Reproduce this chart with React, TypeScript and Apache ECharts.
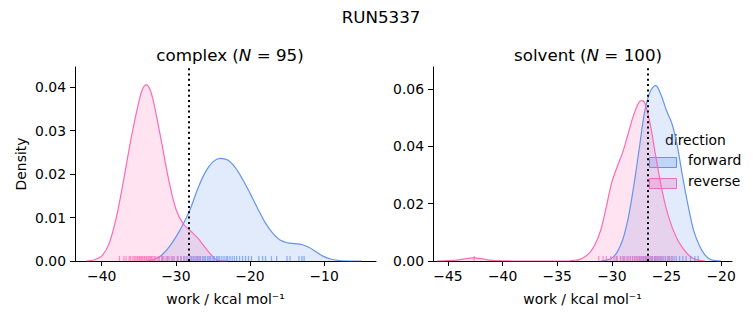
import React, { useEffect, useRef } from "react";
import * as echarts from "echarts";

const FONT = "DejaVu Sans";
const BLUE = "#6495ED";
const PINK = "#FF69B4";
const BLUE_FILL = "rgba(100,149,237,0.27)";
const PINK_FILL = "rgba(255,105,180,0.27)";

// complex KDE (x, density)
const complexForwardX = [-34, -33, -32, -31, -30, -29, -28, -27, -26, -25, -24, -23, -22, -21, -20, -19, -18, -17, -16, -15, -14, -13, -12, -11, -10, -9, -8, -6, -5];
const complexForwardY = [0, 0.0003, 0.0012, 0.003, 0.0055, 0.0085, 0.0122, 0.0168, 0.0205, 0.0228, 0.0236, 0.0232, 0.0215, 0.0188, 0.0156, 0.0122, 0.009, 0.0065, 0.0049, 0.0042, 0.004, 0.0038, 0.0031, 0.002, 0.001, 0.0004, 0.0001, 0, 0];
const complexReverseX = [-42, -41.5, -41, -40, -39, -38, -37, -36, -35, -34.5, -34, -33.5, -33, -32, -31, -30, -29, -28, -27, -26, -25, -24.3, -23];
const complexReverseY = [0, 0.0001, 0.0003, 0.0011, 0.004, 0.0102, 0.019, 0.0285, 0.0365, 0.0395, 0.0405, 0.0395, 0.0365, 0.028, 0.019, 0.012, 0.0085, 0.0069, 0.0052, 0.003, 0.001, 0.0001, 0];

// solvent KDE
const solventForwardX = [-31, -30.5, -30, -29.5, -29, -28.5, -28, -27.5, -27, -26.5, -26, -25.5, -25, -24.5, -24, -23.5, -23, -22.5, -22, -21.5, -21, -20.5, -20];
const solventForwardY = [0, 0.0003, 0.001, 0.0032, 0.0075, 0.015, 0.026, 0.039, 0.052, 0.059, 0.0613, 0.058, 0.0525, 0.048, 0.04, 0.029, 0.019, 0.0105, 0.0055, 0.0022, 0.0006, 0.0001, 0];
const solventReverseX = [-46, -45, -44, -43, -42.6, -42, -41, -40, -38, -34, -33.5, -33, -32.5, -32, -31.5, -31, -30.5, -30, -29.5, -29, -28.5, -28, -27.5, -27.25, -27, -26.5, -26, -25.5, -25, -24.5, -24, -23.5, -23, -22.5, -22, -21.5];
const solventReverseY = [0, 0.0001, 0.0004, 0.001, 0.0011, 0.0008, 0.0002, 0.00003, 0, 0, 0.0002, 0.0005, 0.0014, 0.003, 0.006, 0.011, 0.019, 0.0275, 0.033, 0.038, 0.0445, 0.051, 0.0555, 0.056, 0.0553, 0.048, 0.037, 0.0265, 0.018, 0.012, 0.0075, 0.0045, 0.0022, 0.0008, 0.0002, 0];

// rug values
const complexForwardRug = [-31.8, -31.1, -30.4, -29.7, -29.3, -28.9, -28.6, -28.1, -27.9, -27.6, -27.4, -27.1, -26.9, -26.7, -26.4, -26.2, -26.0, -25.7, -25.5, -25.3, -25.0, -24.8, -24.5, -24.3, -24.1, -23.8, -23.5, -23.2, -23.0, -22.7, -22.4, -22.1, -21.8, -21.4, -21.0, -20.6, -20.2, -19.8, -18.8, -18.3, -17.9, -17.1, -16.4, -15.0, -14.6, -13.4, -13.0, -12.7];
const complexReverseRug = [-37.6, -37.0, -36.7, -36.3, -36.1, -35.8, -35.6, -35.4, -35.2, -35.1, -34.9, -34.8, -34.6, -34.5, -34.3, -34.2, -34.0, -33.9, -33.7, -33.6, -33.4, -33.3, -33.1, -32.9, -32.7, -32.4, -32.2, -31.9, -31.6, -31.3, -30.9, -30.6, -30.2, -29.8, -29.3, -28.9, -28.4, -27.8, -27.2, -26.7];
const solventForwardRug = [-29.6, -29.2, -28.9, -28.6, -28.3, -28.1, -27.9, -27.7, -27.5, -27.3, -27.1, -26.9, -26.8, -26.6, -26.4, -26.3, -26.1, -26.0, -25.8, -25.6, -25.5, -25.3, -25.1, -24.9, -24.7, -24.5, -24.3, -24.1, -23.8, -23.5, -23.2, -22.8, -22.4, -22.1];
const solventReverseRug = [-42.6, -31.2, -30.8, -30.5, -30.1, -29.8, -29.5, -29.2, -29.0, -28.8, -28.5, -28.3, -28.1, -27.9, -27.7, -27.5, -27.4, -27.2, -27.0, -26.9, -26.7, -26.5, -26.3, -26.1, -25.9, -25.7, -25.4, -25.1, -24.8, -24.5];

// dotted reference lines
const complexRef = -28.24;
const solventRef = -26.7;

// ticks
const complexXTicks = [-40, -30, -20, -10];
const complexYTicks = [0, 0.01, 0.02, 0.03, 0.04];
const solventXTicks = [-45, -40, -35, -30, -25, -20];
const solventYTicks = [0, 0.02, 0.04, 0.06];

const zip = (xs: number[], ys: number[]) => xs.map((x, i) => [x, ys[i]]);

export default function App() {
  const ref = useRef<HTMLDivElement>(null);
  useEffect(() => {
    if (!ref.current) return;
    const chart = echarts.init(ref.current, undefined, { renderer: "svg" });
    const axisCommon = {
      axisLine: { show: true, onZero: false, lineStyle: { color: "#000", width: 1 } },
      axisTick: { show: true, length: 5, lineStyle: { color: "#000", width: 1 } },
      splitLine: { show: false },
    };
    const xAxis = (idx: number, min: number, max: number, ticks: number[]) => ({
      type: "value",
      gridIndex: idx,
      min,
      max,
      ...axisCommon,
      axisTick: { ...axisCommon.axisTick, customValues: ticks },
      axisLabel: {
        customValues: ticks,
        margin: 8,
        color: "#000",
        fontFamily: FONT,
        fontSize: 13.9,
        formatter: (v: number) => (v < 0 ? "\u2212" + Math.abs(v) : String(v)),
      },
      name: "work / kcal mol\u207B\u00B9",
      nameLocation: "middle",
      nameGap: 31,
      nameTextStyle: { color: "#000", fontFamily: FONT, fontSize: 13.9 },
    });
    const yAxis = (idx: number, max: number, ticks: number[], name: string) => ({
      type: "value",
      gridIndex: idx,
      min: 0,
      max,
      ...axisCommon,
      axisTick: { ...axisCommon.axisTick, customValues: ticks },
      axisLabel: {
        customValues: ticks,
        margin: 9,
        color: "#000",
        fontFamily: FONT,
        fontSize: 13.9,
        formatter: (v: number) => v.toFixed(2),
      },
      name,
      nameLocation: "middle",
      nameGap: 47,
      nameTextStyle: { color: "#000", fontFamily: FONT, fontSize: 13.9 },
    });
    const kde = (name: string, idx: number, data: number[][], color: string, fill: string, extra: any = {}) => ({
      type: "line",
      name,
      xAxisIndex: idx,
      yAxisIndex: idx,
      data,
      smooth: 0.35,
      showSymbol: false,
      silent: true,
      lineStyle: { color, width: 1.2 },
      areaStyle: { color: fill },
      z: 2,
      ...extra,
    });
    const rug = (idx: number, vals: number[], color: string) => ({
      type: "scatter",
      xAxisIndex: idx,
      yAxisIndex: idx,
      data: vals.map((v) => [v, 0]),
      symbol: "rect",
      symbolSize: [1.3, 5],
      symbolOffset: [0, -2.5],
      itemStyle: { color, opacity: 0.7 },
      silent: true,
      z: 3,
    });
    const refLine = (x: number) => ({
      silent: true,
      symbol: ["none", "none"],
      label: { show: false },
      lineStyle: { color: "#000", width: 2, type: [2, 3.3] },
      data: [{ xAxis: x }],
    });
    const titleRich = {
      t: { fontFamily: FONT, fontSize: 16.7, color: "#000", fontWeight: "normal" },
      i: { fontFamily: FONT, fontSize: 16.7, color: "#000", fontWeight: "normal", fontStyle: "italic" },
    };
    const legendText = { fontFamily: FONT, fontSize: 13.9, fill: "#000" };
    chart.setOption({
      animation: false,
      backgroundColor: "#fff",
      title: [
        { text: "RUN5337", left: 376, top: 3, textAlign: "center", textStyle: { fontFamily: FONT, fontSize: 16.7, fontWeight: "normal", color: "#000" } },
        { text: "{t|complex (}{i|N}{t| = 95)}", left: 225, top: 41, textAlign: "center", textStyle: { fontWeight: "normal", rich: titleRich } },
        { text: "{t|solvent (}{i|N}{t| = 100)}", left: 583, top: 41, textAlign: "center", textStyle: { fontWeight: "normal", rich: titleRich } },
      ],
      grid: [
        { left: 75, top: 67, width: 301, height: 194 },
        { left: 433, top: 67, width: 299, height: 194 },
      ],
      xAxis: [xAxis(0, -43.6, -3.0, complexXTicks), xAxis(1, -46.37, -19.0, solventXTicks)],
      yAxis: [yAxis(0, 0.0446, complexYTicks, "Density"), yAxis(1, 0.0677, solventYTicks, "")],
      series: [
        kde("forward", 0, zip(complexForwardX, complexForwardY), BLUE, BLUE_FILL),
        kde("reverse", 0, zip(complexReverseX, complexReverseY), PINK, PINK_FILL, { markLine: refLine(complexRef) }),
        rug(0, complexForwardRug, BLUE),
        rug(0, complexReverseRug, PINK),
        kde("forward", 1, zip(solventForwardX, solventForwardY), BLUE, BLUE_FILL),
        kde("reverse", 1, zip(solventReverseX, solventReverseY), PINK, PINK_FILL, { markLine: refLine(solventRef) }),
        rug(1, solventForwardRug, BLUE),
        rug(1, solventReverseRug, PINK),
      ],
      graphic: [
        { type: "text", left: 665, top: 133, style: { text: "direction", ...legendText } },
        { type: "rect", shape: { x: 649.5, y: 157.5, width: 27, height: 10 }, style: { fill: BLUE_FILL, stroke: BLUE, lineWidth: 1 } },
        { type: "text", left: 688, top: 153, style: { text: "forward", ...legendText } },
        { type: "rect", shape: { x: 649.5, y: 178.5, width: 27, height: 10 }, style: { fill: PINK_FILL, stroke: PINK, lineWidth: 1 } },
        { type: "text", left: 688, top: 174, style: { text: "reverse", ...legendText } },
      ],
    });
    return () => chart.dispose();
  }, []);
  return <div ref={ref} style={{ position: "fixed", left: 0, top: 0, width: 753, height: 325 }} />;
}
